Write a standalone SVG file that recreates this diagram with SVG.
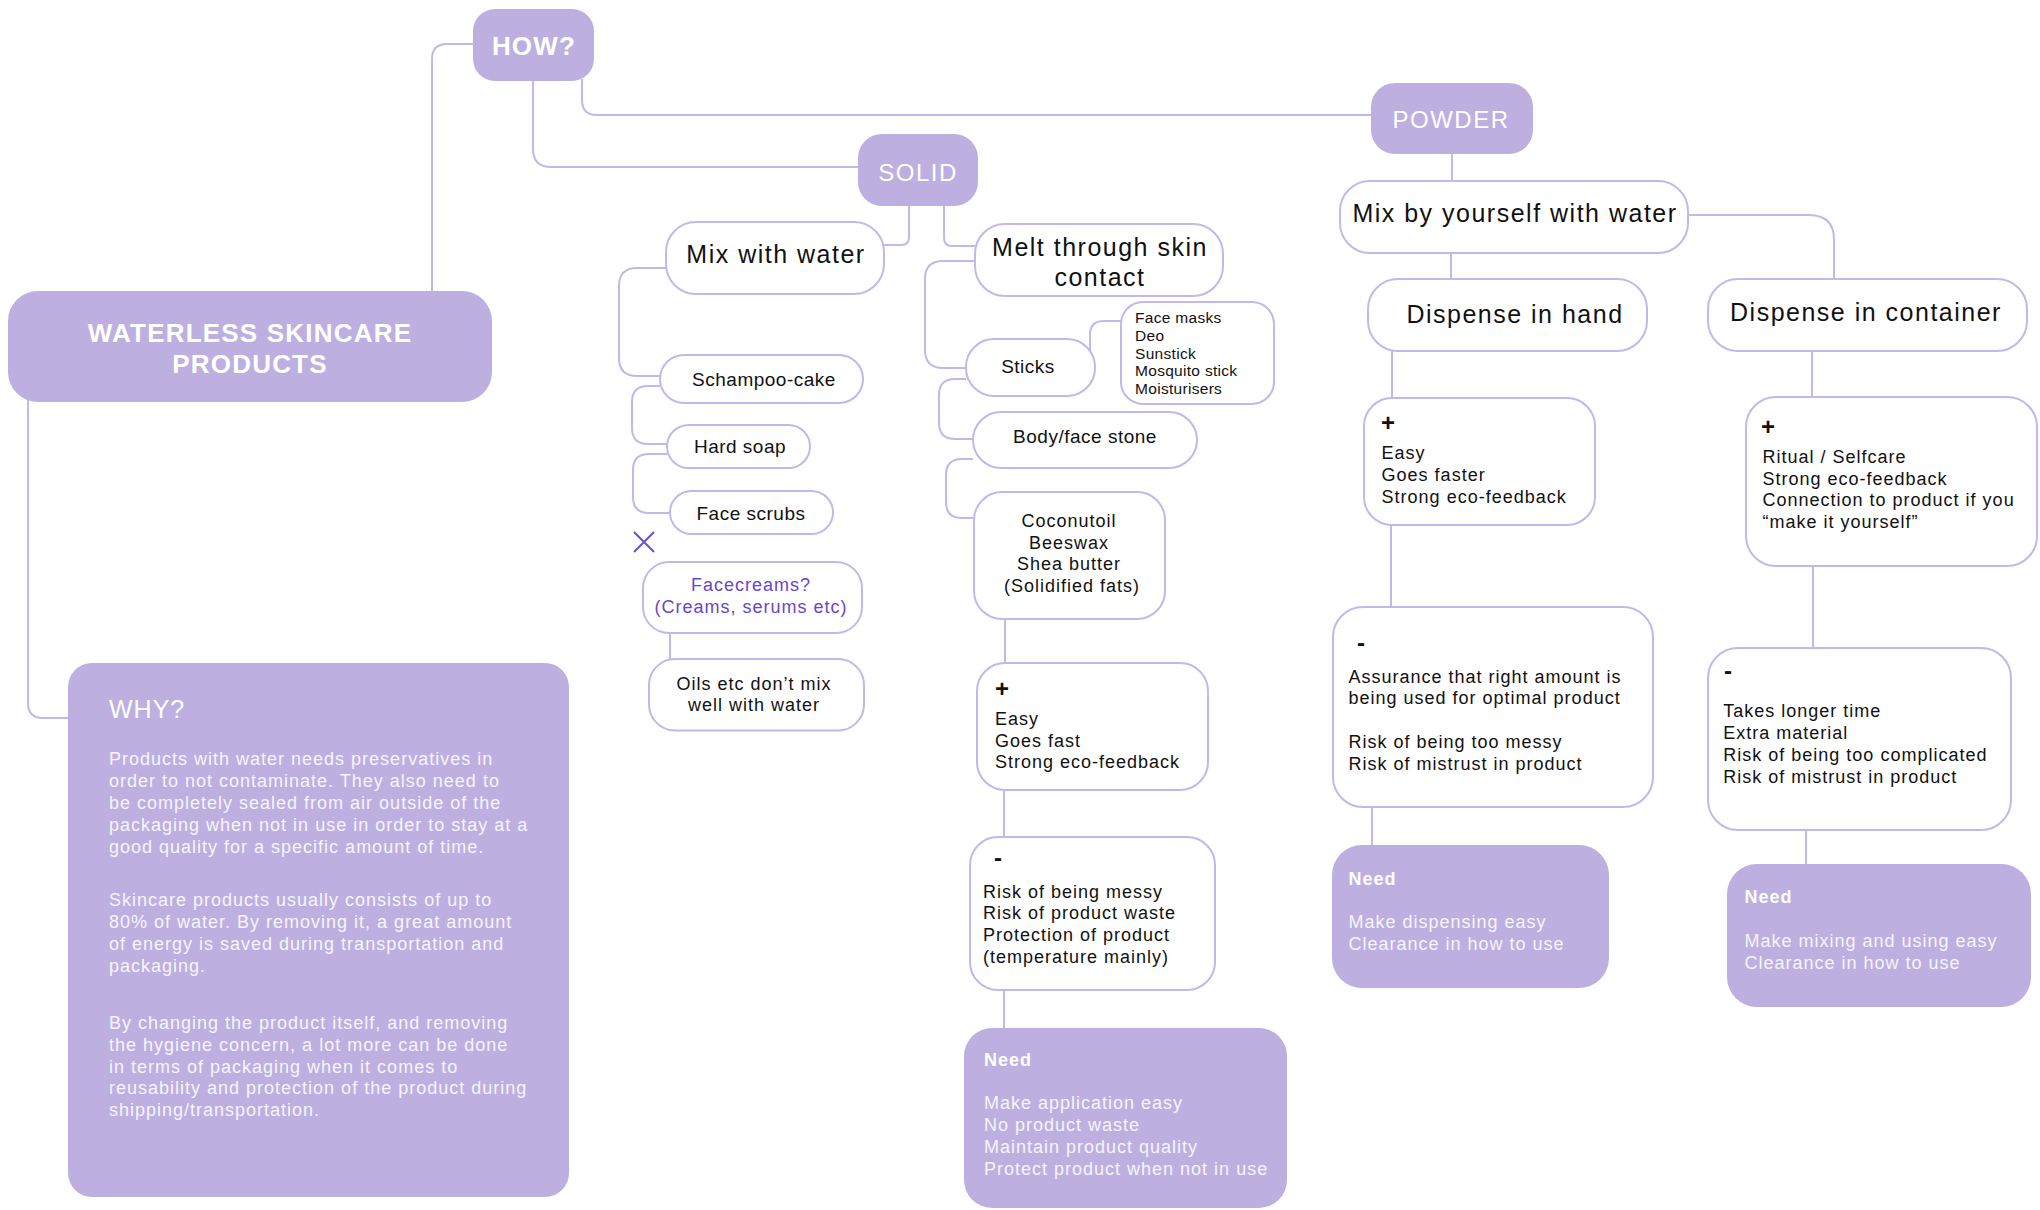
<svg xmlns="http://www.w3.org/2000/svg" width="2040" height="1210" viewBox="0 0 2040 1210">
<style>
  .fillbox { fill: #bdb0e1; stroke: none; }
  .box { fill: #ffffff; stroke: #c4b7ea; stroke-width: 2; }
  .conn path { fill: none; stroke: #c4b7ea; stroke-width: 2; }
  text { font-family: "Liberation Sans", Arial, sans-serif; fill: #111111; }
  .title { font-size: 26px; font-weight: bold; fill: #ffffff; letter-spacing: 1.2px; }
  .cat { font-size: 24px; fill: #ffffff; letter-spacing: 1.5px; }
  .big { font-size: 25px; letter-spacing: 1.5px; }
  .mid { font-size: 19px; letter-spacing: 0.5px; }
  .body { font-size: 18px; letter-spacing: 1px; }
  .small { font-size: 15.5px; letter-spacing: 0.3px; }
  .sign { font-size: 24px; font-weight: bold; }
  .purple { fill: #6a45c8; }
  .white { fill: #f7f4fd; }
  .need { font-size: 18px; font-weight: bold; fill: #ffffff; letter-spacing: 1px; }
  .why { font-size: 25px; fill: #ffffff; letter-spacing: 1px; }
  .whyp { font-size: 18px; fill: #f7f4fd; letter-spacing: 1px; }
</style>

<g id="connectors" class="conn">
  <path d="M473,44 H447 Q432,44 432,59 V291"/>
  <path d="M533,81 V149 Q533,167 551,167 H858"/>
  <path d="M582,79 V100 Q582,115 597,115 H1371"/>
  <path d="M28,400 V703 Q28,718 43,718 H68"/>
  <path d="M909,206 V237 Q909,245 901,245 H884"/>
  <path d="M944,206 V238 Q944,246 952,246 H975"/>
  <path d="M666,268 H637 Q619,268 619,286 V358 Q619,376 637,376 H660"/>
  <path d="M660,386 H648 Q632,386 632,402 V428 Q632,444 648,444 H667"/>
  <path d="M667,454 H649 Q633,454 633,470 V497 Q633,513 649,513 H670"/>
  <path d="M670,633 V659"/>
  <path d="M975,261 H943 Q925,261 925,279 V350 Q925,368 943,368 H966"/>
  <path d="M1090,352 V335 Q1090,321 1104,321 H1121"/>
  <path d="M966,379 H955 Q939,379 939,395 V423 Q939,439 955,439 H973"/>
  <path d="M973,459 H962 Q946,459 946,475 V502 Q946,518 962,518 H974"/>
  <path d="M1005,619 V663"/>
  <path d="M1004,790 V837"/>
  <path d="M1004,990 V1028"/>
  <path d="M1452,154 V181"/>
  <path d="M1451,253 V279"/>
  <path d="M1689,215 H1809 Q1834,215 1834,240 V279"/>
  <path d="M1392,351 V398"/>
  <path d="M1391,525 V607"/>
  <path d="M1372,807 V845"/>
  <path d="M1812,351 V397"/>
  <path d="M1813,566 V648"/>
  <path d="M1806,830 V864"/>
</g>

<g id="how">
  <rect class="fillbox" x="473" y="9" width="121" height="72" rx="22"/>
  <text class="title" x="534" y="55" text-anchor="middle">HOW?</text>
</g>

<g id="waterless">
  <rect class="fillbox" x="8" y="291" width="484" height="111" rx="30"/>
  <text class="title" x="250" y="342" text-anchor="middle">WATERLESS SKINCARE</text>
  <text class="title" x="250" y="373" text-anchor="middle">PRODUCTS</text>
</g>

<g id="why">
  <rect class="fillbox" x="68" y="663" width="501" height="534" rx="24"/>
  <text class="why" x="109" y="718">WHY?</text>
  <text class="whyp">
    <tspan x="109" y="765.4">Products with water needs preservatives in</tspan>
    <tspan x="109" y="787.2">order to not contaminate. They also need to</tspan>
    <tspan x="109" y="809">be completely sealed from air outside of the</tspan>
    <tspan x="109" y="830.8">packaging when not in use in order to stay at a</tspan>
    <tspan x="109" y="852.6">good quality for a specific amount of time.</tspan>
    <tspan x="109" y="906">Skincare products usually consists of up to</tspan>
    <tspan x="109" y="928">80% of water. By removing it, a great amount</tspan>
    <tspan x="109" y="950">of energy is saved during transportation and</tspan>
    <tspan x="109" y="972">packaging.</tspan>
    <tspan x="109" y="1029">By changing the product itself, and removing</tspan>
    <tspan x="109" y="1051">the hygiene concern, a lot more can be done</tspan>
    <tspan x="109" y="1072.5">in terms of packaging when it comes to</tspan>
    <tspan x="109" y="1094">reusability and protection of the product during</tspan>
    <tspan x="109" y="1116">shipping/transportation.</tspan>
  </text>
</g>

<g id="solid">
  <rect class="fillbox" x="858" y="134" width="120" height="72" rx="24"/>
  <text class="cat" x="918" y="181" text-anchor="middle">SOLID</text>
</g>

<g id="powder">
  <rect class="fillbox" x="1371" y="83" width="162" height="71" rx="24"/>
  <text class="cat" x="1451" y="128" text-anchor="middle">POWDER</text>
</g>

<g id="mix-with-water">
  <rect class="box" x="666" y="222" width="218" height="72" rx="30"/>
  <text class="big" x="776" y="263" text-anchor="middle">Mix with water</text>
</g>

<g id="melt">
  <rect class="box" x="975" y="224" width="248" height="72" rx="30"/>
  <text class="big" x="1100" y="255.7" text-anchor="middle">Melt through skin</text>
  <text class="big" x="1100" y="285.7" text-anchor="middle">contact</text>
</g>

<g id="schampoo">
  <rect class="box" x="660" y="355" width="203" height="48" rx="24"/>
  <text class="mid" x="764" y="385.5" text-anchor="middle">Schampoo-cake</text>
</g>

<g id="hard-soap">
  <rect class="box" x="667" y="425" width="143" height="43" rx="21.5"/>
  <text class="mid" x="740" y="452.5" text-anchor="middle">Hard soap</text>
</g>

<g id="face-scrubs">
  <rect class="box" x="670" y="491" width="163" height="43" rx="21.5"/>
  <text class="mid" x="751" y="520" text-anchor="middle">Face scrubs</text>
</g>

<g id="x-mark">
  <path d="M634,532 L654,552 M654,532 L634,552" fill="none" stroke="#6b4fd0" stroke-width="2"/>
</g>

<g id="facecreams">
  <rect class="box" x="643" y="562" width="219" height="71" rx="26"/>
  <text class="body purple" x="751" y="591" text-anchor="middle">Facecreams?</text>
  <text class="body purple" x="751" y="612.7" text-anchor="middle">(Creams, serums etc)</text>
</g>

<g id="oils">
  <rect class="box" x="649" y="659" width="215" height="71.5" rx="26"/>
  <text class="body" x="754" y="689.5" text-anchor="middle">Oils etc don’t mix</text>
  <text class="body" x="754" y="711.4" text-anchor="middle">well with water</text>
</g>

<g id="sticks">
  <rect class="box" x="966" y="339" width="129" height="57" rx="28"/>
  <text class="mid" x="1028" y="373" text-anchor="middle">Sticks</text>
</g>

<g id="face-masks">
  <rect class="box" x="1121" y="302" width="153" height="102" rx="22"/>
  <text class="small">
    <tspan x="1135" y="323">Face masks</tspan>
    <tspan x="1135" y="340.8">Deo</tspan>
    <tspan x="1135" y="358.6">Sunstick</tspan>
    <tspan x="1135" y="376.4">Mosquito stick</tspan>
    <tspan x="1135" y="394.2">Moisturisers</tspan>
  </text>
</g>

<g id="body-stone">
  <rect class="box" x="973" y="412" width="224" height="56" rx="28"/>
  <text class="mid" x="1085" y="443" text-anchor="middle">Body/face stone</text>
</g>

<g id="coconut">
  <rect class="box" x="974" y="492" width="191" height="127" rx="28"/>
  <text class="body" text-anchor="middle">
    <tspan x="1072" y="526.5">Coconutoil</tspan>
    <tspan x="1072" y="548.5">Beeswax</tspan>
    <tspan x="1072" y="570.3">Shea butter</tspan>
    <tspan x="1072" y="592">(Solidified fats)</tspan>
  </text>
</g>

<g id="solid-plus">
  <rect class="box" x="977" y="663" width="231" height="127" rx="28"/>
  <text class="sign" x="995" y="697">+</text>
  <text class="body">
    <tspan x="995" y="725">Easy</tspan>
    <tspan x="995" y="746.7">Goes fast</tspan>
    <tspan x="995" y="768">Strong eco-feedback</tspan>
  </text>
</g>

<g id="solid-minus">
  <rect class="box" x="970" y="837" width="245" height="153" rx="28"/>
  <text class="sign" x="994" y="866">-</text>
  <text class="body">
    <tspan x="983" y="897.6">Risk of being messy</tspan>
    <tspan x="983" y="919.2">Risk of product waste</tspan>
    <tspan x="983" y="941">Protection of product</tspan>
    <tspan x="983" y="962.8">(temperature mainly)</tspan>
  </text>
</g>

<g id="solid-need">
  <rect class="fillbox" x="964" y="1028" width="323" height="180" rx="28"/>
  <text class="need" x="984" y="1065.6">Need</text>
  <text class="body white">
    <tspan x="984" y="1109.4">Make application easy</tspan>
    <tspan x="984" y="1131">No product waste</tspan>
    <tspan x="984" y="1152.7">Maintain product quality</tspan>
    <tspan x="984" y="1174.5">Protect product when not in use</tspan>
  </text>
</g>

<g id="mix-yourself">
  <rect class="box" x="1340" y="181" width="348" height="72" rx="30"/>
  <text class="big" x="1515" y="221.7" text-anchor="middle">Mix by yourself with water</text>
</g>

<g id="dispense-hand">
  <rect class="box" x="1368" y="279" width="279" height="72" rx="30"/>
  <text class="big" x="1515" y="323" text-anchor="middle">Dispense in hand</text>
</g>

<g id="dispense-container">
  <rect class="box" x="1708" y="279" width="319" height="72" rx="30"/>
  <text class="big" x="1866" y="321" text-anchor="middle">Dispense in container</text>
</g>

<g id="hand-plus">
  <rect class="box" x="1364" y="398" width="231" height="127" rx="28"/>
  <text class="sign" x="1381" y="431">+</text>
  <text class="body">
    <tspan x="1381.6" y="459.3">Easy</tspan>
    <tspan x="1381.6" y="481">Goes faster</tspan>
    <tspan x="1381.6" y="502.7">Strong eco-feedback</tspan>
  </text>
</g>

<g id="hand-minus">
  <rect class="box" x="1333" y="607" width="320" height="200" rx="30"/>
  <text class="sign" x="1357" y="651">-</text>
  <text class="body">
    <tspan x="1348.5" y="683.3">Assurance that right amount is</tspan>
    <tspan x="1348.5" y="704.3">being used for optimal product</tspan>
    <tspan x="1348.5" y="748.3">Risk of being too messy</tspan>
    <tspan x="1348.5" y="770">Risk of mistrust in product</tspan>
  </text>
</g>

<g id="hand-need">
  <rect class="fillbox" x="1332" y="845" width="277" height="143" rx="30"/>
  <text class="need" x="1348.5" y="885">Need</text>
  <text class="body white">
    <tspan x="1348.5" y="928.3">Make dispensing easy</tspan>
    <tspan x="1348.5" y="950">Clearance in how to use</tspan>
  </text>
</g>

<g id="container-plus">
  <rect class="box" x="1746" y="397" width="291" height="169" rx="30"/>
  <text class="sign" x="1761" y="435">+</text>
  <text class="body">
    <tspan x="1762.5" y="463.3">Ritual / Selfcare</tspan>
    <tspan x="1762.5" y="484.5">Strong eco-feedback</tspan>
    <tspan x="1762.5" y="506">Connection to product if you</tspan>
    <tspan x="1762.5" y="527.7">“make it yourself”</tspan>
  </text>
</g>

<g id="container-minus">
  <rect class="box" x="1708" y="648" width="303" height="182" rx="30"/>
  <text class="sign" x="1724" y="679">-</text>
  <text class="body">
    <tspan x="1723.3" y="716.7">Takes longer time</tspan>
    <tspan x="1723.3" y="739">Extra material</tspan>
    <tspan x="1723.3" y="761">Risk of being too complicated</tspan>
    <tspan x="1723.3" y="783.3">Risk of mistrust in product</tspan>
  </text>
</g>

<g id="container-need">
  <rect class="fillbox" x="1727" y="864" width="304" height="143" rx="30"/>
  <text class="need" x="1744.5" y="903.3">Need</text>
  <text class="body white">
    <tspan x="1744.5" y="947.3">Make mixing and using easy</tspan>
    <tspan x="1744.5" y="969.3">Clearance in how to use</tspan>
  </text>
</g>
</svg>
